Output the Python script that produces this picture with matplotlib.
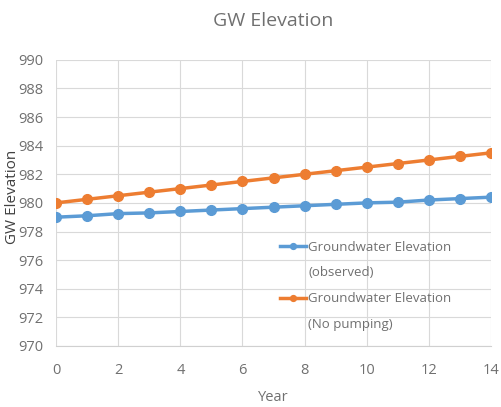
import matplotlib
matplotlib.use("Agg")
import matplotlib.pyplot as plt
from matplotlib.lines import Line2D

plt.rcParams["font.family"] = ["Open Sans", "DejaVu Sans"]

years = list(range(0, 15))
observed = [979.0, 979.1, 979.25, 979.3, 979.4, 979.5, 979.6, 979.7, 979.8,
            979.9, 980.0, 980.05, 980.2, 980.3, 980.4]
no_pumping = [980.0, 980.25, 980.5, 980.75, 981.0, 981.25, 981.5, 981.75, 982.0,
              982.25, 982.5, 982.75, 983.0, 983.25, 983.5]
series_names = ["Groundwater Elevation", "Groundwater Elevation"]
series_notes = ["(observed)", "(No pumping)"]

BLUE = "#5b9bd5"
ORANGE = "#ed7d31"
GREY = "#707070"

fig = plt.figure(figsize=(5.01, 4.07), dpi=100)
ax = fig.add_axes([0.112, 0.150, 0.868, 0.703])

l1, = ax.plot(years, observed, "-o", color=BLUE, lw=2.5, ms=7)
l2, = ax.plot(years, no_pumping, "-o", color=ORANGE, lw=2.5, ms=7)

ax.set_xlim(0, 14)
ax.set_ylim(970, 990)
ax.set_xticks(range(0, 15, 2))
ax.set_yticks(range(970, 991, 2))
ax.grid(True, color="#d9d9d9", lw=0.8)
ax.set_axisbelow(True)
for s in ["top", "right", "left"]:
    ax.spines[s].set_visible(False)
ax.spines["bottom"].set_color("#d0d0d0")
ax.tick_params(axis="x", length=0, colors=GREY, labelsize=10.5, pad=12)
ax.tick_params(axis="y", length=0, colors=GREY, labelsize=10.5, pad=9.5)

ax.set_xlabel("Year", color=GREY, fontsize=10.5, labelpad=9)
ax.set_ylabel("GW Elevation", color="#404040", fontsize=11)
ax.yaxis.set_label_coords(-0.084, 0.52)
ax.set_title("GW Elevation", color=GREY, fontsize=14, pad=24)

# legend: handle sits on the first line of each two-line label
blank = Line2D([], [], alpha=0)
handles = [l1, blank, l2, blank]
labels = [series_names[0], series_notes[0], series_names[1], series_notes[1]]
ax.legend(handles, labels, loc="upper left", bbox_to_anchor=(0.515, 0.368),
          frameon=False, fontsize=9.5, labelcolor=GREY, handlelength=2.0,
          handletextpad=0.15, labelspacing=0.97, markerscale=0.6,
          borderpad=0, borderaxespad=0)

fig.savefig("out.png", dpi=100)
